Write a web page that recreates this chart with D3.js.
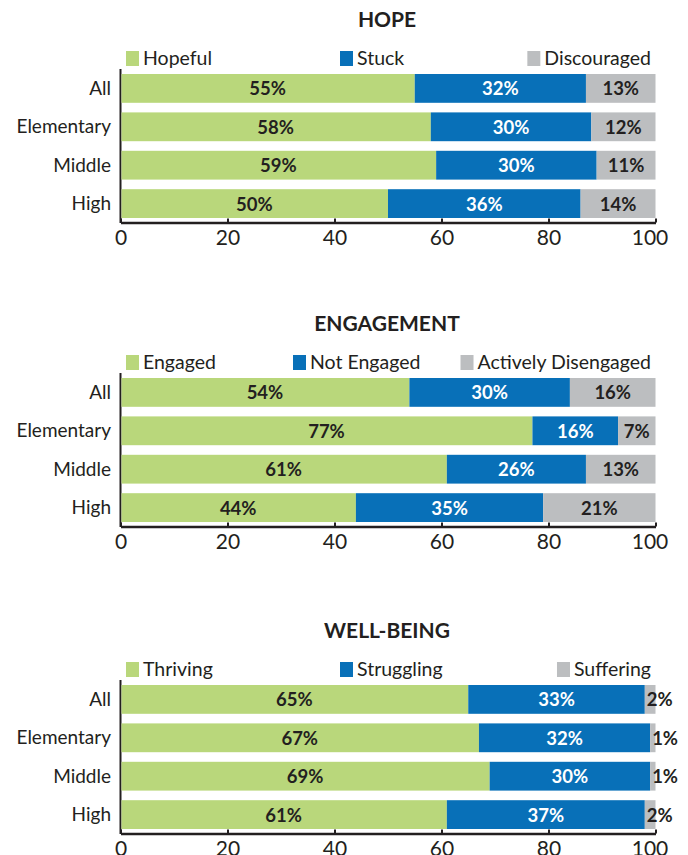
<!DOCTYPE html>
<html>
<head>
<meta charset="utf-8">
<script src="https://cdn.jsdelivr.net/npm/d3@7"></script>
<style>
  body { margin: 0; background: #fff; }
  text { font-family: Lato, "Noto Sans", sans-serif; fill: #231f20; }
</style>
</head>
<body>
<script>
// ---- data ----
var categories = ["All", "Elementary", "Middle", "High"];
var panelTitles = ["HOPE", "ENGAGEMENT", "WELL-BEING"];

var hopeSeries = ["Hopeful", "Stuck", "Discouraged"];
var hopeValues = [[55, 32, 13], [58, 30, 12], [59, 30, 11], [50, 36, 14]];

var engagementSeries = ["Engaged", "Not Engaged", "Actively Disengaged"];
var engagementValues = [[54, 30, 16], [77, 16, 7], [61, 26, 13], [44, 35, 21]];

var wellbeingSeries = ["Thriving", "Struggling", "Suffering"];
var wellbeingValues = [[65, 33, 2], [67, 32, 1], [69, 30, 1], [61, 37, 2]];

var tickValues = [0, 20, 40, 60, 80, 100];

// ---- style / layout ----
var colors = ["#b9d77b", "#0870b8", "#bcbec0"];
var labelColors = ["#231f20", "#ffffff", "#231f20"];
var panelTops = [0, 304, 611];
var middleLegendX = [340, 293, 340];

var panels = [
  { title: panelTitles[0], series: hopeSeries, values: hopeValues },
  { title: panelTitles[1], series: engagementSeries, values: engagementValues },
  { title: panelTitles[2], series: wellbeingSeries, values: wellbeingValues }
];

var svg = d3.select("body").append("svg")
  .attr("width", 688)
  .attr("height", 855);

var x = d3.scaleLinear().domain([0, 100]).range([120.5, 655.5]);

panels.forEach(function (p, pi) {
  var g = svg.append("g").attr("transform", "translate(0," + panelTops[pi] + ")");

  var y = d3.scaleBand().domain(categories).range([74, 218]).paddingInner(0.25).paddingOuter(0);

  // title
  g.append("text")
    .attr("x", 387).attr("y", 27)
    .attr("text-anchor", "middle")
    .style("font-size", "21px").style("font-weight", "bold")
    .text(p.title);

  // legend
  var legend = g.append("g");
  p.series.forEach(function (s, si) {
    var item = legend.append("g");
    var t = item.append("text")
      .attr("y", 65)
      .style("font-size", "19.5px")
      .text(s);
    var w = t.node().getComputedTextLength();
    var sx;
    if (si === 0) sx = 126;
    else if (si === 1) sx = middleLegendX[pi];
    else sx = 651 - w - 17;
    t.attr("x", sx + 17);
    item.append("rect")
      .attr("x", sx).attr("y", 51)
      .attr("width", 13).attr("height", 15)
      .attr("fill", colors[si]);
  });

  // stacked segments
  var rows = categories.map(function (c, ci) {
    var acc = 0;
    return p.values[ci].map(function (v, si) {
      var seg = { cat: c, si: si, v: v, x0: acc, x1: acc + v };
      acc += v;
      return seg;
    });
  });

  // y axis line
  g.append("line")
    .attr("x1", x(0)).attr("x2", x(0))
    .attr("y1", 69).attr("y2", 223)
    .attr("stroke", "#231f20").attr("stroke-width", 2);

  var rowG = g.selectAll(".row").data(rows).enter().append("g").attr("class", "row");

  rowG.selectAll("rect").data(function (d) { return d; }).enter().append("rect")
    .attr("x", function (d) { return x(d.x0) + (d.si === 0 ? 1 : 0); })
    .attr("y", function (d) { return y(d.cat); })
    .attr("width", function (d) { return x(d.x1) - x(d.x0) - (d.si === 0 ? 1 : 0); })
    .attr("height", y.bandwidth())
    .attr("fill", function (d) { return colors[d.si]; });

  rowG.selectAll("text").data(function (d) { return d; }).enter().append("text")
    .attr("x", function (d) { return d.v < 5 ? x(d.x0) + 2 : x((d.x0 + d.x1) / 2); })
    .attr("y", function (d) { return y(d.cat) + y.bandwidth() / 2 + 7; })
    .attr("text-anchor", function (d) { return d.v < 5 ? "start" : "middle"; })
    .style("font-size", "18.5px").style("font-weight", "bold")
    .style("fill", function (d) { return labelColors[d.si]; })
    .text(function (d) { return d.v + "%"; });

  // category labels
  g.selectAll(".cat").data(categories).enter().append("text")
    .attr("class", "cat")
    .attr("x", 111)
    .attr("y", function (d) { return y(d) + y.bandwidth() / 2 + 6.5; })
    .attr("text-anchor", "end")
    .style("font-size", "19px")
    .text(function (d) { return d; });

  // x axis
  var axis = g.append("g")
    .attr("transform", "translate(0,222.5)")
    .call(d3.axisBottom(x).tickValues(tickValues).tickSizeInner(-4).tickSizeOuter(0).tickPadding(7.5));
  axis.select(".domain").attr("stroke", "#231f20").attr("stroke-width", 2.5);
  axis.selectAll(".tick line").attr("stroke", "#231f20").attr("stroke-width", 2);
  axis.selectAll(".tick text")
    .attr("fill", "#231f20")
    .attr("dx", function (d) { return d === 100 ? -6 : 0; })
    .style("font-family", "Lato, sans-serif")
    .style("font-size", "21px").style("font-weight", "normal");
});
</script>
</body>
</html>
